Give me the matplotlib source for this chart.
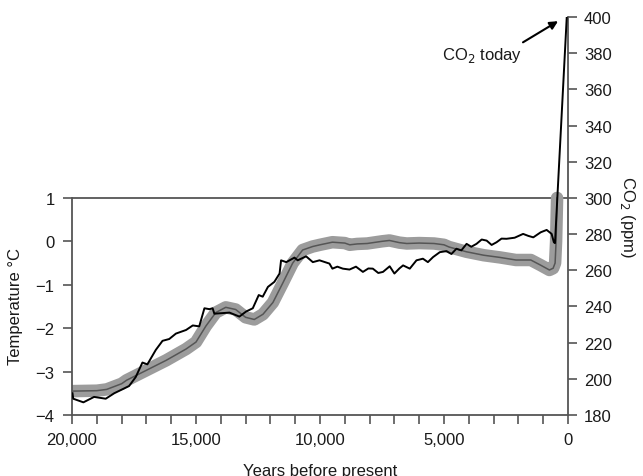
import matplotlib
matplotlib.use("Agg")
import matplotlib.pyplot as plt

plt.rcParams['font.family'] = ['Liberation Sans', 'DejaVu Sans']

# Temperature reconstruction (years before present, deg C)
temp_years = [20000, 19000, 18600, 18000, 17800, 17000, 16200, 15400, 15000, 14600,
              14200, 13800, 13400, 13000, 12650, 12300, 11900, 11500, 11100, 10700,
              10300, 10000, 9500, 9000, 8800, 8500, 8100, 7500, 7200, 6800, 6500,
              6000, 5400, 5000, 4800, 4100, 3400, 2750, 2100, 1500, 1100, 750, 600,
              520, 480, 440]
temp_vals = [-3.45, -3.44, -3.41, -3.28, -3.2, -2.97, -2.74, -2.48, -2.32, -1.95,
             -1.64, -1.52, -1.57, -1.75, -1.8, -1.68, -1.41, -0.96, -0.5, -0.2,
             -0.12, -0.08, -0.02, -0.04, -0.08, -0.06, -0.05, 0.0, 0.02, -0.03, -0.05,
             -0.04, -0.05, -0.08, -0.13, -0.24, -0.32, -0.37, -0.43, -0.43, -0.55, -0.66, -0.62,
             -0.5, 0.0, 1.0]

# CO2 record (years before present, ppm)
co2_years = [19980, 19950, 19540, 19110, 18640, 18300, 17700, 17430, 17160, 16960,
             16620, 16350, 16080, 15810, 15400, 15130, 14870, 14660, 14460, 14330,
             14260, 13650, 13250, 12980, 12710, 12470, 12310, 12100, 11840, 11630,
             11570, 11360, 11030, 10900, 10560, 10290, 10020, 9620, 9500, 9300, 9080,
             8810, 8550, 8270, 8050, 7870, 7650, 7460, 7190, 7000, 6800, 6650, 6380,
             6110, 5850, 5650, 5440, 5170, 4900, 4700, 4500, 4300, 4090, 3900, 3690,
             3480, 3280, 3080, 2880, 2680, 2480, 2150, 1810, 1600, 1400, 1100, 860,
             660, 570, 525, 50]
co2_vals = [192, 189, 187, 190, 189, 192, 196, 201, 209, 208,
            216, 221, 222, 225, 227, 229.5, 229, 239, 238.5, 239,
            236, 236.6, 234.4, 237.2, 239, 246.3, 245.4, 250.8, 253.6, 258.2,
            265.5, 264.5, 267, 265.5, 267.7, 264.5, 265.5, 263.7, 260.9, 262, 260.9,
            260.4, 262, 259.1, 261, 260.9, 258.5, 259.1, 262.2, 258.2, 261, 262.7, 260.9,
            265.5, 266.4, 264.5, 267.3, 270, 270.6, 269, 271.9, 271, 274.6, 273, 274.6,
            277, 276.4, 274, 275.5, 277.5, 277.4, 278, 280.1, 279, 278.2, 281, 282.3,
            280.1, 275.5, 275, 400]

temp_ticks = [-4, -3, -2, -1, 0, 1]
co2_ticks = list(range(180, 401, 20))
x_major = [20000, 15000, 10000, 5000, 0]
x_labels = ['20,000', '15,000', '10,000', '5,000', '0']
x_minor = list(range(0, 20001, 1000))

spine_col = '#555555'
txt_col = '#1a1a1a'

fig = plt.figure(figsize=(6.43, 4.77), dpi=100)
ax = fig.add_axes([72/643, 61/477, 496/643, 398/477])
ax2 = ax.twinx()

t_top = (400 - 180) / 24.0 - 4
ax.set_ylim(-4, t_top)
ax2.set_ylim(180, 400)
ax.set_xlim(20000, 0)

# temperature band
ax.plot(temp_years, temp_vals, color='#9c9c9c', lw=9, solid_capstyle='round',
        solid_joinstyle='round', zorder=2)
ax.plot(temp_years, temp_vals, color='#555555', lw=1.1, zorder=3)
ax.axhline(1, color=spine_col, lw=1.3, zorder=1)

ax2.plot(co2_years, co2_vals, color='black', lw=1.4, zorder=4)

for s in ['top', 'right']:
    ax.spines[s].set_visible(False)
for s in ['top', 'left', 'bottom']:
    ax2.spines[s].set_visible(False)
ax.spines['left'].set_bounds(-4, 1)
for sp in [ax.spines['left'], ax.spines['bottom'], ax2.spines['right']]:
    sp.set_color(spine_col)
    sp.set_linewidth(1.3)

ax.set_yticks(temp_ticks)
ax.set_yticklabels(['\u22124', '\u22123', '\u22122', '\u22121', '0', '1'])
ax2.set_yticks(co2_ticks)
ax.set_xticks(x_major)
ax.set_xticklabels(x_labels)
ax.set_xticks(x_minor, minor=True)

ax.tick_params(axis='both', which='both', direction='out', length=6.5, width=1.2,
               color=spine_col, labelsize=12, labelcolor=txt_col)
ax.tick_params(axis='y', pad=6)
ax.tick_params(axis='x', pad=6)
ax2.tick_params(axis='y', direction='out', length=6.5, width=1.2, color=spine_col,
                labelsize=12, labelcolor=txt_col, pad=5)

ax.set_xlabel('Years before present', fontsize=12, color=txt_col, labelpad=11)
ax.set_ylabel('Temperature \u00b0C', fontsize=12, color=txt_col)
ax.yaxis.set_label_coords(-0.099, 0.276)
ax2.set_ylabel('CO$_2$ (ppm)', fontsize=12, color=txt_col, rotation=270, labelpad=18)

ax2.text(3450, 379.5, 'CO$_2$ today', fontsize=12, color=txt_col,
         ha='center', va='center')
ax2.annotate('', xy=(400, 397.7), xytext=(1815, 386),
             arrowprops=dict(arrowstyle='-|>', color='black', lw=1.5,
                             shrinkA=0, shrinkB=0, mutation_scale=12))

fig.savefig('out.png', dpi=100)
